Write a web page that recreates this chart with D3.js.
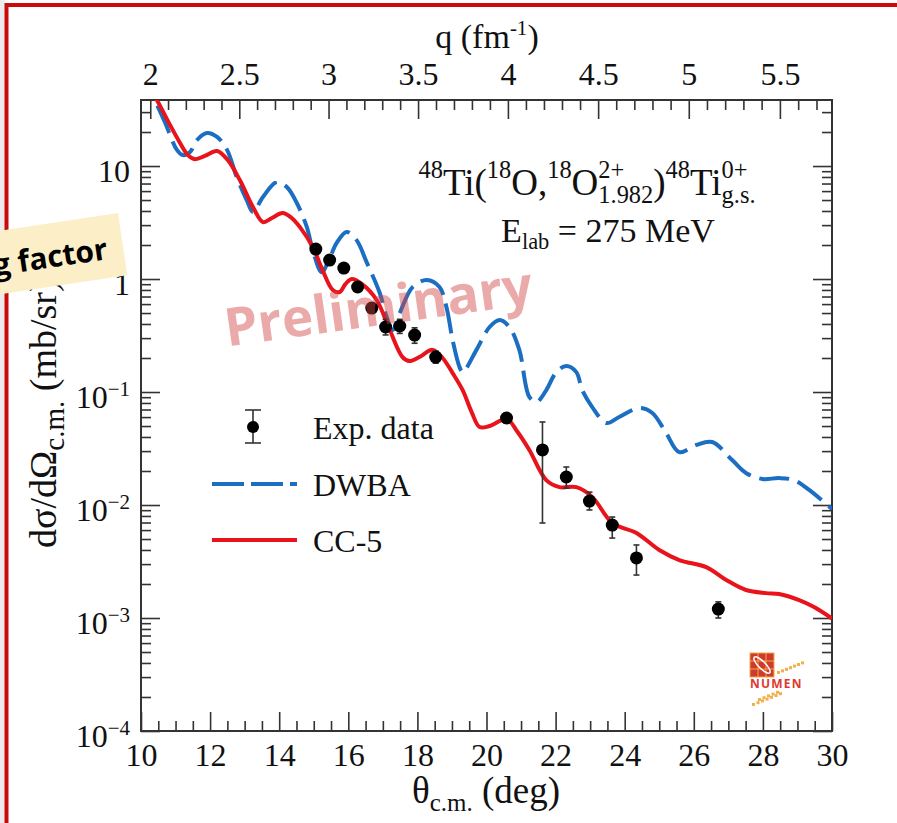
<!DOCTYPE html>
<html>
<head>
<meta charset="utf-8">
<script src="https://cdnjs.cloudflare.com/ajax/libs/d3/7.8.5/d3.min.js"></script>
<style>
body { margin: 0; background: #fff; }
svg text { font-family: "Liberation Serif", "Times New Roman", serif; }
</style>
</head>
<body>
<svg id="chart" width="897" height="823"></svg>
<script>
// bottom axis: scattering angle (deg), top axis: momentum transfer (fm^-1)
var thetaTicks = [10, 12, 14, 16, 18, 20, 22, 24, 26, 28, 30];
var qTicks = [2, 2.5, 3, 3.5, 4, 4.5, 5, 5.5];
var qTickLabels = ["2", "2.5", "3", "3.5", "4", "4.5", "5", "5.5"];
var yTicks = [1e-4, 1e-3, 1e-2, 1e-1, 1, 10];
var yTickBase = ["10", "10", "10", "10", "1", "10"];
var yTickExp = ["\u22124", "\u22123", "\u22122", "\u22121", "", ""];

// experimental cross sections (mb/sr) with error bar ends
var expTheta = [15.06, 15.46, 15.87, 16.27, 16.68, 17.08, 17.49, 17.92, 18.53, 20.58, 21.62, 22.31, 22.98, 23.64, 24.34, 26.71];
var expValue = [1.84, 1.47, 1.25, 0.85, 0.553, 0.376, 0.384, 0.319, 0.204, 0.0589, 0.0307, 0.0177, 0.01084, 0.00665, 0.0034, 0.0012];
var expLow   = [1.70, 1.36, 1.16, 0.78, 0.50, 0.32, 0.33, 0.27, 0.18, 0.053, 0.00693, 0.0141, 0.00904, 0.0051, 0.0024, 0.0010];
var expHigh  = [1.98, 1.58, 1.34, 0.92, 0.61, 0.44, 0.44, 0.37, 0.23, 0.065, 0.0543, 0.0217, 0.0130, 0.00783, 0.00443, 0.00139];

// DWBA calculation
var dwbaTheta = [10.00, 10.40, 10.69, 11.04, 11.21, 11.42, 11.62, 11.91, 12.20, 12.49, 12.77, 13.06, 13.24, 13.53, 13.93, 14.22, 14.51, 14.80, 14.97, 15.23, 15.46, 15.66, 15.95, 16.24, 16.53, 16.91, 17.11, 17.28, 17.49, 17.86, 18.27, 18.64, 18.84, 19.02, 19.22, 19.31, 19.71, 20.09, 20.38, 20.66, 20.95, 21.24, 21.45, 21.73, 22.02, 22.31, 22.60, 22.77, 23.06, 23.47, 23.84, 24.42, 24.80, 25.20, 25.58, 26.07, 26.53, 27.11, 27.51, 27.98, 28.47, 28.90, 29.34, 30.00];
var dwbaValue = [70.8, 38.4, 24.5, 13.9, 12.5, 13.3, 17.0, 19.6, 18.1, 13.9, 8.0, 5.0, 3.92, 5.32, 7.21, 6.52, 4.71, 2.88, 1.81, 1.15, 1.53, 2.08, 2.61, 2.21, 1.41, 0.752, 0.461, 0.354, 0.500, 0.849, 0.98, 0.849, 0.565, 0.288, 0.166, 0.150, 0.236, 0.376, 0.434, 0.376, 0.236, 0.0904, 0.0817, 0.104, 0.150, 0.170, 0.150, 0.104, 0.0736, 0.0532, 0.0601, 0.0721, 0.0652, 0.0433, 0.0294, 0.0340, 0.0361, 0.0250, 0.0192, 0.0170, 0.0173, 0.0166, 0.0136, 0.0092];

// coupled channels calculation
var ccTheta = [10.00, 10.46, 10.84, 11.13, 11.36, 11.56, 11.85, 12.20, 12.51, 12.86, 13.24, 13.53, 13.79, 14.10, 14.36, 14.60, 14.97, 15.23, 15.55, 15.75, 15.92, 16.10, 16.39, 16.82, 17.20, 17.57, 17.77, 18.06, 18.44, 18.73, 19.02, 19.31, 19.57, 19.80, 20.09, 20.58, 20.90, 21.24, 21.73, 22.11, 22.60, 23.06, 23.64, 24.34, 25.00, 25.58, 26.36, 26.94, 27.51, 28.09, 28.47, 29.05, 29.48, 30.00];
var ccValue = [67.9, 38.4, 23.1, 16.0, 12.5, 11.5, 12.3, 13.6, 11.3, 7.52, 4.34, 3.19, 3.47, 3.84, 3.47, 2.88, 1.92, 1.25, 0.80, 0.767, 0.904, 1.0, 0.904, 0.652, 0.354, 0.204, 0.188, 0.204, 0.236, 0.200, 0.147, 0.104, 0.0665, 0.0490, 0.0500, 0.0577, 0.0443, 0.0307, 0.0166, 0.0144, 0.0144, 0.0118, 0.00694, 0.00565, 0.0040, 0.00326, 0.00282, 0.00217, 0.00177, 0.00166, 0.00163, 0.00144, 0.00125, 0.00099];

var Q2K = 22.35; // q = 2k sin(theta/2)

var svg = d3.select("#chart");
var pLeft = 141, pRight = 832, pTop = 100, pBottom = 731;

var x = d3.scaleLinear().domain([10, 30]).range([pLeft, pRight]);
var y = d3.scaleLog().domain([1e-4, 38.4]).range([pBottom, pTop]);

var qGrid = d3.range(19, 59).map(function(i) { return i / 10; });
var qScale = d3.scaleLinear().domain(qGrid)
    .range(qGrid.map(function(q) { return x(2 * Math.asin(q / Q2K) * 180 / Math.PI); }));

// page frame and background bits
svg.append("rect").attr("x", 0).attr("y", 0).attr("width", 5).attr("height", 823).attr("fill", "#ececec");
svg.append("rect").attr("x", 6.5).attr("y", 5).attr("width", 1000).attr("height", 1000)
    .attr("fill", "none").attr("stroke", "#cc0a0a").attr("stroke-width", 4);

svg.append("clipPath").attr("id", "plotclip").append("rect")
    .attr("x", pLeft).attr("y", pTop).attr("width", pRight - pLeft).attr("height", pBottom - pTop);

// minor tick values
var thetaMinor = d3.range(10.5, 30, 0.5).filter(function(t) { return t % 2 !== 0; });
var qMinor = d3.range(21, 58).map(function(i) { return i / 10; }).filter(function(q) { return Math.round(q * 10) % 5 !== 0; });
var yMinor = [];
[-4, -3, -2, -1, 0, 1].forEach(function(e) {
    for (var m = 2; m <= 9; m++) {
        var v = m * Math.pow(10, e);
        if (v < 38.4) yMinor.push(v);
    }
});

function styleAxis(g) {
    g.select(".domain").remove();
    g.attr("font-size", 32).attr("font-family", null).attr("color", "#333");
    g.selectAll("line").attr("stroke-width", 1.6);
}

// bottom axis
svg.append("g").attr("transform", "translate(0," + pBottom + ")")
    .call(d3.axisBottom(x).tickValues(thetaTicks).tickSize(-19).tickPadding(12).tickFormat(d3.format("d")))
    .call(styleAxis)
    .selectAll("text").attr("fill", "#111");
svg.append("g").attr("transform", "translate(0," + pBottom + ")")
    .call(d3.axisBottom(x).tickValues(thetaMinor).tickSize(-10).tickFormat(""))
    .call(styleAxis);

// top axis (q)
svg.append("g").attr("transform", "translate(0," + pTop + ")")
    .call(d3.axisTop(qScale).tickValues(qTicks).tickSize(-19).tickPadding(15)
        .tickFormat(function(d, i) { return qTickLabels[i]; }))
    .call(styleAxis)
    .selectAll("text").attr("fill", "#111");
svg.append("g").attr("transform", "translate(0," + pTop + ")")
    .call(d3.axisTop(qScale).tickValues(qMinor).tickSize(-10).tickFormat(""))
    .call(styleAxis);

// left axis
var yAxisG = svg.append("g").attr("transform", "translate(" + pLeft + ",0)")
    .call(d3.axisLeft(y).tickValues(yTicks).tickSize(-19).tickPadding(11).tickFormat(""))
    .call(styleAxis);
yAxisG.selectAll(".tick text").each(function(d, i) {
    var t = d3.select(this).attr("dy", 15).attr("fill", "#111");
    t.append("tspan").text(yTickBase[i]);
    if (yTickExp[i]) {
        t.append("tspan").attr("font-size", 21).attr("dy", -12).text(yTickExp[i]);
    }
});
svg.append("g").attr("transform", "translate(" + pLeft + ",0)")
    .call(d3.axisLeft(y).tickValues(yMinor).tickSize(-10).tickFormat(""))
    .call(styleAxis);

// right axis, ticks only
svg.append("g").attr("transform", "translate(" + pRight + ",0)")
    .call(d3.axisRight(y).tickValues(yTicks).tickSize(-19).tickFormat(""))
    .call(styleAxis);
svg.append("g").attr("transform", "translate(" + pRight + ",0)")
    .call(d3.axisRight(y).tickValues(yMinor).tickSize(-10).tickFormat(""))
    .call(styleAxis);

svg.append("rect").attr("x", pLeft).attr("y", pTop).attr("width", pRight - pLeft).attr("height", pBottom - pTop)
    .attr("fill", "none").attr("stroke", "#333").attr("stroke-width", 2);

// axis titles
var xt = svg.append("text").attr("x", 486).attr("y", 803).attr("text-anchor", "middle")
    .attr("font-size", 37).attr("fill", "#111");
xt.append("tspan").text("\u03b8");
xt.append("tspan").attr("font-size", 25).attr("dy", 8).text("c.m.");
xt.append("tspan").attr("dy", -8).text("\u00a0(deg)");

var qt = svg.append("text").attr("x", 487).attr("y", 48).attr("text-anchor", "middle")
    .attr("font-size", 34).attr("fill", "#111");
qt.append("tspan").text("q (fm");
qt.append("tspan").attr("font-size", 21).attr("dy", -13).text("-1");
qt.append("tspan").attr("dy", 13).text(")");

var yt = svg.append("text").attr("transform", "translate(56,548) rotate(-90)").attr("text-anchor", "start")
    .attr("font-size", 38).attr("fill", "#111");
yt.append("tspan").text("d\u03c3/d\u03a9");
yt.append("tspan").attr("font-size", 29).attr("dy", 8).text("c.m.");
yt.append("tspan").attr("dy", -8).text("\u00a0(mb/sr)");

// curves
var plot = svg.append("g").attr("clip-path", "url(#plotclip)");
var line = d3.line()
    .x(function(d) { return x(d[0]); })
    .y(function(d) { return y(d[1]); })
    .curve(d3.curveCatmullRom.alpha(0.5));

plot.append("path").datum(d3.zip(dwbaTheta, dwbaValue))
    .attr("d", line).attr("fill", "none").attr("stroke", "#1b6ec2")
    .attr("stroke-width", 4).attr("stroke-dasharray", "30,9");
plot.append("path").datum(d3.zip(ccTheta, ccValue))
    .attr("d", line).attr("fill", "none").attr("stroke", "#e8131b").attr("stroke-width", 4);

// experimental data
var pts = plot.selectAll(".pt").data(d3.range(expTheta.length)).enter().append("g");
pts.append("line")
    .attr("x1", function(i) { return x(expTheta[i]); })
    .attr("x2", function(i) { return x(expTheta[i]); })
    .attr("y1", function(i) { return y(expLow[i]); })
    .attr("y2", function(i) { return y(expHigh[i]); })
    .attr("stroke", "#333").attr("stroke-width", 1.6);
[expLow, expHigh].forEach(function(arr) {
    pts.append("line")
        .attr("x1", function(i) { return x(expTheta[i]) - 3; })
        .attr("x2", function(i) { return x(expTheta[i]) + 3; })
        .attr("y1", function(i) { return y(arr[i]); })
        .attr("y2", function(i) { return y(arr[i]); })
        .attr("stroke", "#333").attr("stroke-width", 1.6);
});
pts.append("circle")
    .attr("cx", function(i) { return x(expTheta[i]); })
    .attr("cy", function(i) { return y(expValue[i]); })
    .attr("r", 6.5).attr("fill", "#000");

// legend
var lg = svg.append("g");
lg.append("line").attr("x1", 253).attr("x2", 253).attr("y1", 410).attr("y2", 443).attr("stroke", "#333").attr("stroke-width", 1.6);
lg.append("line").attr("x1", 245).attr("x2", 261).attr("y1", 410).attr("y2", 410).attr("stroke", "#333").attr("stroke-width", 1.6);
lg.append("line").attr("x1", 245).attr("x2", 261).attr("y1", 443).attr("y2", 443).attr("stroke", "#333").attr("stroke-width", 1.6);
lg.append("circle").attr("cx", 253).attr("cy", 427).attr("r", 6).attr("fill", "#000");
lg.append("text").attr("x", 313).attr("y", 439).attr("font-size", 32).attr("fill", "#111").text("Exp. data");
lg.append("line").attr("x1", 212).attr("x2", 297).attr("y1", 484).attr("y2", 484)
    .attr("stroke", "#1b6ec2").attr("stroke-width", 4).attr("stroke-dasharray", "32,7");
lg.append("text").attr("x", 313).attr("y", 496).attr("font-size", 32).attr("fill", "#111").text("DWBA");
lg.append("line").attr("x1", 212).attr("x2", 297).attr("y1", 540).attr("y2", 540)
    .attr("stroke", "#e8131b").attr("stroke-width", 4);
lg.append("text").attr("x", 313).attr("y", 552).attr("font-size", 32).attr("fill", "#111").text("CC-5");

// reaction label built from pieces so the stacked scripts line up
function richLine(cx, baseline, parts, size) {
    var g = svg.append("g");
    var cursor = 0, small = size * 0.66;
    parts.forEach(function(p) {
        if (p.sup !== undefined) {
            var a = g.append("text").attr("x", cursor).attr("y", -size * 0.45).attr("font-size", small).attr("fill", "#111").text(p.sup);
            var b = g.append("text").attr("x", cursor).attr("y", size * 0.22).attr("font-size", small).attr("fill", "#111").text(p.sub);
            cursor += Math.max(a.node().getComputedTextLength(), b.node().getComputedTextLength());
        } else {
            var dyv = p.k === "sup" ? -size * 0.45 : (p.k === "sub" ? size * 0.22 : 0);
            var t = g.append("text").attr("x", cursor).attr("y", dyv)
                .attr("font-size", p.k === "n" ? size : small).attr("fill", "#111").text(p.t);
            cursor += t.node().getComputedTextLength();
        }
    });
    g.attr("transform", "translate(" + (cx - cursor / 2) + "," + baseline + ")");
}
richLine(587, 195, [
    {t: "48", k: "sup"}, {t: "Ti(", k: "n"}, {t: "18", k: "sup"}, {t: "O,", k: "n"},
    {t: "18", k: "sup"}, {t: "O", k: "n"}, {sup: "2+", sub: "1.982"}, {t: ")", k: "n"},
    {t: "48", k: "sup"}, {t: "Ti", k: "n"}, {sup: "0+", sub: "g.s."}
], 37);
richLine(608, 242, [
    {t: "E", k: "n"}, {t: "lab", k: "sub"}, {t: "\u00a0=\u00a0275\u00a0MeV", k: "n"}
], 34);

// NUMEN logo
var logo = svg.append("g").attr("transform", "translate(750,653)");
logo.append("rect").attr("width", 24).attr("height", 24).attr("fill", "#cf3a2c").attr("stroke", "#f2a648").attr("stroke-width", 1);
[8, 16].forEach(function(v) {
    logo.append("line").attr("x1", v).attr("x2", v).attr("y1", 0).attr("y2", 24).attr("stroke", "#f2a648").attr("stroke-width", 1);
    logo.append("line").attr("y1", v).attr("y2", v).attr("x1", 0).attr("x2", 24).attr("stroke", "#f2a648").attr("stroke-width", 1);
});
logo.append("ellipse").attr("cx", 12).attr("cy", 12).attr("rx", 11).attr("ry", 3.5)
    .attr("transform", "rotate(45,12,12)").attr("fill", "none").attr("stroke", "#fff").attr("stroke-width", 1.5);
logo.append("text").attr("x", 0).attr("y", 35).attr("font-size", 12).attr("font-weight", "bold")
    .attr("letter-spacing", 1.2).style("font-family", "'Open Sans', sans-serif").style("fill", "#e03a30").text("NUMEN");
for (var k = 0; k < 7; k++) {
    logo.append("rect").attr("x", 27 + k * 4).attr("y", 18 - k * 1.6).attr("width", 3).attr("height", 3).attr("fill", "#f2b04a");
    logo.append("rect").attr("x", 2 + k * 4.5).attr("y", 50 - k * 1.8).attr("width", 3).attr("height", 3).attr("fill", "#f2b04a");
    if (k < 5) logo.append("rect").attr("x", 8 + k * 4.5).attr("y", 45 - k * 1.8).attr("width", 3).attr("height", 3).attr("fill", "#f2b04a");
}

// watermark
svg.append("text").attr("transform", "translate(381,325) rotate(-8)").attr("text-anchor", "middle")
    .attr("font-size", 53).attr("font-weight", "bold")
    .style("font-family", "'Open Sans', sans-serif").style("fill", "rgba(210,66,66,0.45)").text("Preliminary");

// sticker on the left edge
var st = svg.append("g").attr("transform", "translate(118,213) rotate(-8.5)");
st.append("rect").attr("x", -300).attr("y", 0).attr("width", 300).attr("height", 63).attr("fill", "#fcefc7");
st.append("text").attr("x", -16).attr("y", 44).attr("text-anchor", "end")
    .attr("font-size", 30).attr("font-weight", "bold")
    .style("font-family", "'Open Sans', sans-serif").style("fill", "#000").text("g factor");
</script>
</body>
</html>
